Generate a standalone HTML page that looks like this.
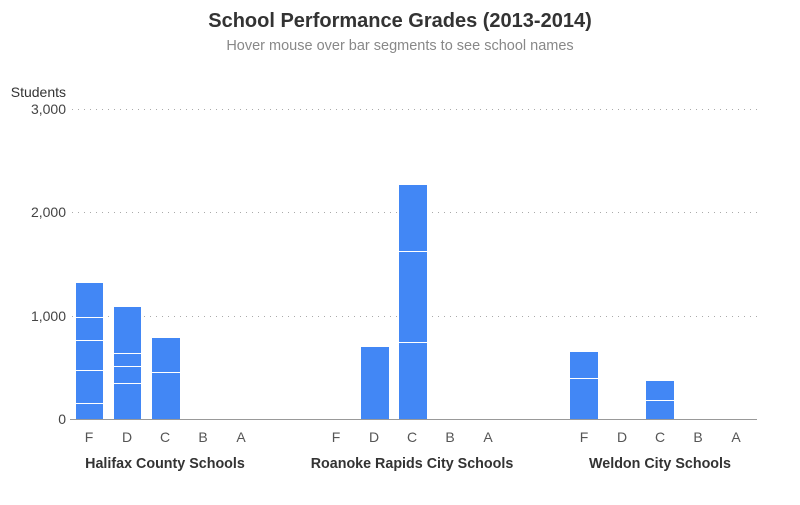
<!DOCTYPE html>
<html><head><style>body{margin:0;background:#fff}</style></head><body>
<svg width="800" height="500" xmlns="http://www.w3.org/2000/svg" font-family="Liberation Sans, sans-serif">
<text x="400" y="27" text-anchor="middle" font-size="20" font-weight="bold" fill="#333">School Performance Grades (2013-2014)</text>
<text x="400" y="50" text-anchor="middle" font-size="14.5" fill="#888">Hover mouse over bar segments to see school names</text>
<text x="66" y="97" text-anchor="end" font-size="14" fill="#333">Students</text>
<g stroke="#aaa" stroke-dasharray="1,5">
<line x1="72" y1="109.5" x2="757" y2="109.5"/><line x1="72" y1="212.5" x2="757" y2="212.5"/><line x1="72" y1="316.5" x2="757" y2="316.5"/>
</g>
<g font-size="14" fill="#444" text-anchor="end">
<text x="66" y="114">3,000</text><text x="66" y="217">2,000</text><text x="66" y="321">1,000</text><text x="66" y="424">0</text>
</g>
<g fill="#4287f5">
<rect x="76" y="283" width="27" height="136"/>
<rect x="114" y="307" width="27" height="112"/>
<rect x="152" y="338" width="28" height="81"/>
<rect x="361" y="347" width="28" height="72"/>
<rect x="399" y="185" width="28" height="234"/>
<rect x="570" y="352" width="28" height="67"/>
<rect x="646" y="381" width="28" height="38"/>
</g>
<g stroke="#fff" stroke-width="1">
<line x1="76" x2="103" y1="317.5" y2="317.5"/><line x1="76" x2="103" y1="340.5" y2="340.5"/><line x1="76" x2="103" y1="370.5" y2="370.5"/><line x1="76" x2="103" y1="403.5" y2="403.5"/>
<line x1="114" x2="141" y1="353.5" y2="353.5"/><line x1="114" x2="141" y1="366.5" y2="366.5"/><line x1="114" x2="141" y1="383.5" y2="383.5"/>
<line x1="152" x2="180" y1="372.5" y2="372.5"/>
<line x1="399" x2="427" y1="251.5" y2="251.5"/><line x1="399" x2="427" y1="342.5" y2="342.5"/>
<line x1="570" x2="598" y1="378.5" y2="378.5"/>
<line x1="646" x2="674" y1="400.5" y2="400.5"/>
</g>
<line x1="70" y1="419.5" x2="757" y2="419.5" stroke="#999"/>
<g font-size="14" fill="#555" text-anchor="middle">
<text x="89" y="442">F</text><text x="127" y="442">D</text><text x="165" y="442">C</text><text x="203" y="442">B</text><text x="241" y="442">A</text>
<text x="336" y="442">F</text><text x="374" y="442">D</text><text x="412" y="442">C</text><text x="450" y="442">B</text><text x="488" y="442">A</text>
<text x="584" y="442">F</text><text x="622" y="442">D</text><text x="660" y="442">C</text><text x="698" y="442">B</text><text x="736" y="442">A</text>
</g>
<g font-size="14.3" font-weight="bold" fill="#333" text-anchor="middle">
<text x="165" y="468">Halifax County Schools</text>
<text x="412" y="468">Roanoke Rapids City Schools</text>
<text x="660" y="468">Weldon City Schools</text>
</g>
</svg>
</body></html>
